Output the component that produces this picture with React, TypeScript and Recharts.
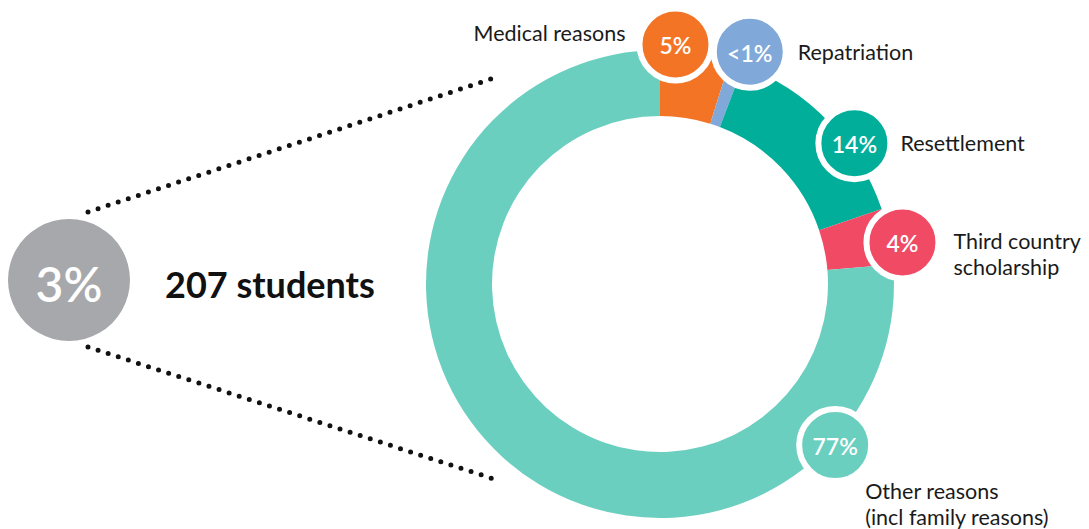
import React from "react";
import { Pie, PieChart } from "recharts";

// reasons for leaving, in students (207 total)
const reasons = ["Medical reasons", "Repatriation", "Resettlement", "Third country scholarship", "Other reasons (incl family reasons)"];
const students = [10, 2, 29, 8, 158];
const shareLabels = ["5%", "<1%", "14%", "4%", "77%"];
const nameLines = [["Medical reasons"], ["Repatriation"], ["Resettlement"], ["Third country", "scholarship"], ["Other reasons", "(incl family reasons)"]];
const colors = ["#f47425", "#80a8d8", "#00ae9a", "#f04a65", "#6bcfc0"];

const totalShare = "3%";
const totalLabel = "207 students";

// where each badge sits relative to its slice (degrees clockwise, px beyond ring)
const badgeShift = [
  { angle: -5, r: 6, dx: -50, dy: -11, anchor: "end" },
  { angle: 2, r: 15, dx: 48, dy: 0, anchor: "start" },
  { angle: 8, r: 6, dx: 46, dy: 0, anchor: "start" },
  { angle: 2, r: 12, dx: 51, dy: -1, anchor: "start" },
  { angle: -90, r: 4, dx: 30, dy: 46, anchor: "start" },
];

const FONT = "Lato, 'Open Sans', sans-serif";
const RAD = Math.PI / 180;

const data = reasons.map((name, i) => ({ name, value: students[i], fill: colors[i] }));

const renderBadge = (props: any) => {
  const { cx, cy, midAngle, outerRadius, index } = props;
  const s = badgeShift[index];
  const ang = midAngle - s.angle;
  const r = outerRadius + s.r;
  const x = cx + r * Math.cos(-ang * RAD);
  const y = cy + r * Math.sin(-ang * RAD);
  return (
    <g key={`badge-${index}`}>
      <circle cx={x} cy={y} r={36} fill={colors[index]} stroke="#fff" strokeWidth={6} />
      <text x={x} y={y + 1} textAnchor="middle" dominantBaseline="central" fill="#fff" fontSize={23} fontWeight={600} fontFamily={FONT}>
        {shareLabels[index]}
      </text>
      {nameLines[index].map((line, j) => (
        <text
          key={j}
          x={x + s.dx}
          y={y + s.dy + j * 26}
          textAnchor={s.anchor}
          dominantBaseline="central"
          fill="#1a1a1a"
          fontSize={21.5}
          fontFamily={FONT}
        >
          {line}
        </text>
      ))}
    </g>
  );
};

export default function App() {
  return (
    <div style={{ position: "absolute", left: 0, top: 0, width: 1089, height: 529, background: "#fff" }}>
      <svg width={1089} height={529} style={{ position: "absolute", left: 0, top: 0 }}>
        <line x1={88} y1={212} x2={500} y2={76} stroke="#111" strokeWidth={5} strokeLinecap="round" strokeDasharray="0 10.6" />
        <line x1={88} y1={347} x2={500} y2={481} stroke="#111" strokeWidth={5} strokeLinecap="round" strokeDasharray="0 10.6" />
        <text x={165} y={284} dominantBaseline="central" fontSize={36} fontWeight={700} fill="#111" fontFamily={FONT}>
          {totalLabel}
        </text>
      </svg>
      <PieChart width={1089} height={529} margin={{ top: 0, right: 0, bottom: 0, left: 0 }} style={{ position: "absolute", left: 0, top: 0 }}>
        <Pie
          data={[{ name: "total", value: 1 }]}
          dataKey="value"
          cx={69}
          cy={280}
          innerRadius={0}
          outerRadius={61}
          fill="#a7a8ab"
          stroke="none"
          isAnimationActive={false}
          label={false}
        />
        <Pie
          data={data}
          dataKey="value"
          nameKey="name"
          cx={660}
          cy={284}
          innerRadius={168}
          outerRadius={234}
          startAngle={90}
          endAngle={-270}
          stroke="none"
          isAnimationActive={false}
          labelLine={false}
          label={renderBadge}
        />
      </PieChart>
      <svg width={1089} height={529} style={{ position: "absolute", left: 0, top: 0, pointerEvents: "none" }}>
        <text x={69} y={283} textAnchor="middle" dominantBaseline="central" fontSize={48} fontWeight={600} fill="#fff" fontFamily={FONT}>
          {totalShare}
        </text>
      </svg>
    </div>
  );
}
